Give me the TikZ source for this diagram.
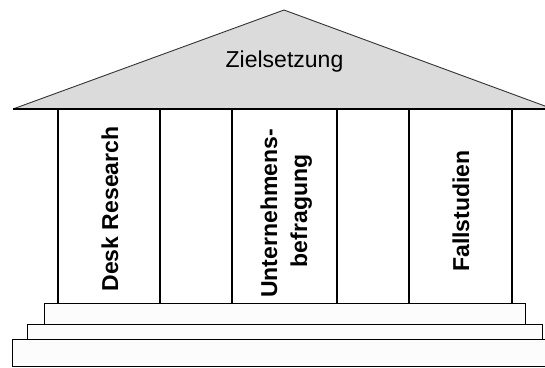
\documentclass[tikz,border=0pt]{standalone}
\usepackage{fontspec}
\setmainfont{Liberation Sans}
\begin{document}
\begin{tikzpicture}[x=1pt,y=-1pt,
  roof/.style={fill=black!14,draw=black!80,line width=0.9pt},
  base/.style={draw=black,line width=1.4pt},
  col/.style={draw=black,line width=1.6pt},
  stepbox/.style={draw=black,fill=black!1,line width=1.3pt},
  roofText/.style={font=\fontsize{23}{26}\selectfont,inner sep=0pt},
  colText/.style={font=\bfseries\fontsize{23}{26}\selectfont,rotate=90,inner sep=0pt}]
\useasboundingbox (0,0) rectangle (545,367);
\begin{scope}
\clip (0,0) rectangle (545,367);
% roof
\coordinate (rl) at (13,109);
\coordinate (rt) at (284,10);
\coordinate (rr) at (553,109);
\fill[black!14] (rl) -- (rt) -- (rr) -- cycle;
\draw[draw=black!80,line width=0.9pt] (rl) -- (rt) -- (rr);
\draw[base] (rl) -- (rr);
% columns
\foreach \x/\n in {58/a,160/b,232/c,337/d,409/e,512/f}{
  \coordinate (t\n) at (\x,109);
  \coordinate (b\n) at (\x,303);
  \draw[col] (t\n) -- (b\n);
}
% steps
\node[stepbox,minimum width=481pt,minimum height=21pt,anchor=north west,inner sep=0pt] (s1) at (44,303) {};
\node[stepbox,minimum width=515pt,minimum height=15pt,anchor=north west,inner sep=0pt] (s2) at (27,324) {};
\node[stepbox,minimum width=550pt,minimum height=27pt,anchor=north west,inner sep=0pt] (s3) at (12,339) {};
\end{scope}
% texts
\node[roofText,anchor=base] (ziel) at (284.5,67) {Zielsetzung};
\node[colText,anchor=base] (desk) at (118,209) {Desk Research};
\node[colText,anchor=base] (unt1) at (277,213.5) {Unternehmens-};
\node[colText,anchor=base] (unt2) at (307,211) {befragung};
\node[colText,anchor=base] (fall) at (469,211) {Fallstudien};
\end{tikzpicture}
\end{document}
